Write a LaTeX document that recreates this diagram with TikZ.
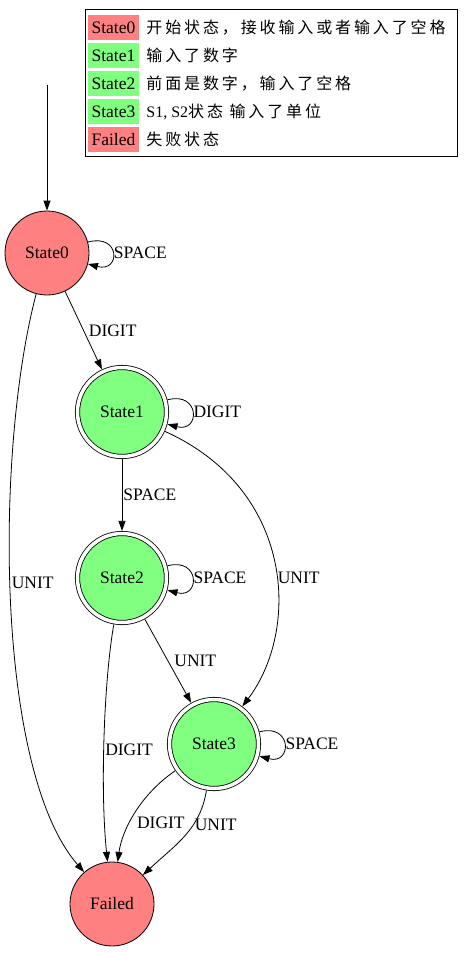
\documentclass[tikz,border=0pt]{standalone}
\usepackage{fontspec}
\setmainfont{Liberation Serif}
\newfontfamily\cjk[LetterSpace=18]{Noto Sans CJK SC}
\usetikzlibrary{arrows.meta}
\definecolor{lightred}{RGB}{255,128,128}
\definecolor{lightgreen}{RGB}{128,255,128}

\begin{document}
\begin{tikzpicture}[x=1pt,y=-1pt,>={Triangle[length=10pt,width=7pt]},line width=0.8pt,
    font=\fontsize{17.5}{20}\selectfont,
    state/.style={circle,draw,fill=lightred,minimum size=84pt,inner sep=0pt},
    accept/.style={state,fill=lightgreen,double,double distance=3.5pt,minimum size=89pt,outer sep=2.6pt},
    lbl/.style={anchor=west,inner sep=1pt},
    selfloop/.style={loop,out=15,in=-15,distance=34pt},
    keycell/.style={minimum width=51pt,minimum height=25pt,inner sep=0pt}]
  \useasboundingbox (0,0) rectangle (472,953);
  % legend
  \draw (85,9) rectangle (457,156);
  \foreach \k/\c/\t [count=\i] in {State0/lightred/{\cjk 开始状态，接收输入或者输入了空格},
      State1/lightgreen/{\cjk 输入了数字}, State2/lightgreen/{\cjk 前面是数字，输入了空格},
      State3/lightgreen/{S1, S2{\cjk 状态 输入了单位}}, Failed/lightred/{\cjk 失败状态}}{
    \node[keycell,fill=\c] (key\i) at (113.5,27.5+28*\i-28) {\k};
    \node[anchor=west,inner sep=0pt,font=\fontsize{16}{20}\selectfont] (txt\i) at (146,27.5+28*\i-28) {\t};
  }
  % states
  \coordinate (start) at (47,85);
  \node[state] (s0) at (47,253) {State0};
  \node[accept] (s1) at (122,412) {State1};
  \node[accept] (s2) at (122,578) {State2};
  \node[accept] (s3) at (214,744) {State3};
  \node[state] (failed) at (112,904) {Failed};
  \draw[->] (start) -- (s0);
  \path[->] (s0) edge[selfloop] node[lbl,right] {SPACE} (s0)
    (s1) edge[selfloop] node[lbl,right] {DIGIT} (s1)
    (s2) edge[selfloop] node[lbl,right] {SPACE} (s2)
    (s3) edge[selfloop] node[lbl,right] {SPACE} (s3)
    (s0) edge node[lbl,xshift=4pt] {DIGIT} (s1)
    (s1) edge node[lbl] {SPACE} (s2)
    (s2) edge node[lbl,xshift=5pt] {UNIT} (s3);
  \draw[->] (s0) .. controls (-5,450) and (-5,770) .. node[lbl,pos=.47] {UNIT} (failed);
  \draw[->] (s1) .. controls (295,490) and (300,630) .. node[lbl,pos=.55] {UNIT} (s3);
  \draw[->] (s2) .. controls (104,680) and (100,790) .. node[lbl,pos=.55] {DIGIT} (failed);
  \draw[->] (s3) .. controls (140,795) and (122,830) .. node[lbl,pos=.6,xshift=6pt] {DIGIT} (failed);
  \draw[->] (s3) .. controls (200,830) and (175,845) .. node[lbl,pos=.35] {UNIT} (failed);
\end{tikzpicture}
\end{document}
